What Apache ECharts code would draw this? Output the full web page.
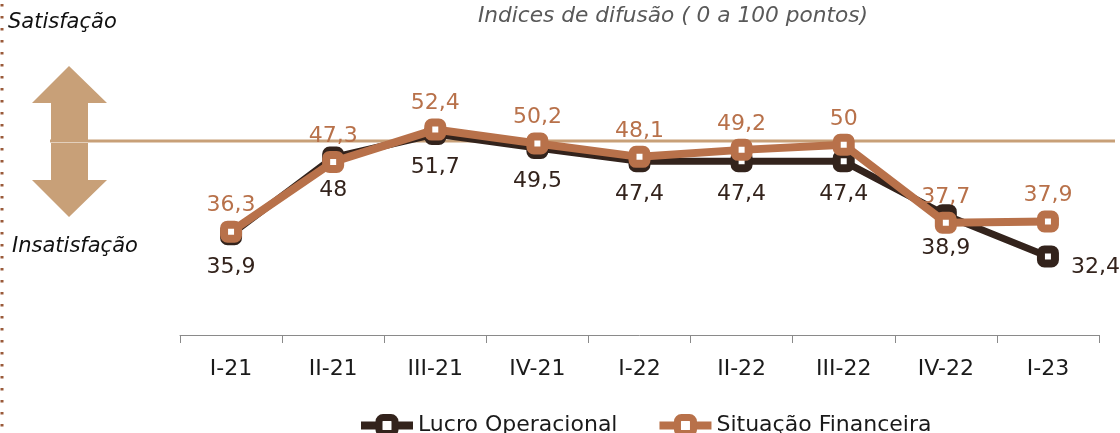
<!DOCTYPE html>
<html>
<head>
<meta charset="utf-8">
<script src="https://cdn.jsdelivr.net/npm/echarts@6/dist/echarts.min.js"></script>
<style>
html,body{margin:0;padding:0;background:#fff;}
#chart{width:1120px;height:433px;}
</style>
</head>
<body>
<div id="chart"></div>
<script>
const categories = ['I-21','II-21','III-21','IV-21','I-22','II-22','III-22','IV-22','I-23'];
const lucroOperacional = [35.9, 48, 51.7, 49.5, 47.4, 47.4, 47.4, 38.9, 32.4];
const situacaoFinanceira = [36.3, 47.3, 52.4, 50.2, 48.1, 49.2, 50, 37.7, 37.9];
const seriesNames = ['Lucro Operacional', 'Situação Financeira'];
const titleText = 'Indices de difusão ( 0 a 100 pontos)';

const FONT = 'DejaVu Sans';
const DARK = '#33231c';
const ORANGE = '#b8714a';
const TAN = '#c8a078';

const fmt = v => String(v).replace('.', ',');

const chart = echarts.init(document.getElementById('chart'));

const lucroData = lucroOperacional.map((v, i) => {
  if (i === lucroOperacional.length - 1) {
    return { value: v, label: { position: 'right', distance: 12, offset: [0, 11] } };
  }
  return v;
});

chart.setOption({
  animation: false,
  backgroundColor: '#fff',
  title: {
    text: titleText,
    left: 668, top: 0, textAlign: 'center',
    textStyle: { fontFamily: FONT, fontStyle: 'italic', fontWeight: 'normal', fontSize: 21.7, color: '#595959' }
  },
  legend: {
    data: seriesNames,
    top: 409, left: 352,
    itemWidth: 52, itemHeight: 20, itemGap: 38,
    lineStyle: { width: 8 },
    itemStyle: { borderWidth: 7 },
    textStyle: { fontFamily: FONT, fontSize: 22, color: '#1a1a1a' }
  },
  grid: { left: 180, right: 21, top: 18, bottom: 98 },
  xAxis: {
    type: 'category',
    data: categories,
    boundaryGap: true,
    axisLine: { lineStyle: { color: '#8a8a8a', width: 1 } },
    axisTick: { show: true, length: 8, lineStyle: { color: '#8a8a8a' } },
    axisLabel: { margin: 23, fontFamily: FONT, fontSize: 22, color: '#1a1a1a' }
  },
  yAxis: {
    type: 'value', min: 20, max: 70, show: false, splitLine: { show: false }
  },
  graphic: [
    { type: 'line', z: 0, shape: { x1: 50, y1: 141, x2: 1115, y2: 141 }, style: { stroke: TAN, lineWidth: 3 } },
    { type: 'polygon', z: 1, shape: { points: [[69,66],[107,103],[88,103],[88,140],[51,140],[51,103],[32,103]] }, style: { fill: TAN } },
    { type: 'polygon', z: 1, shape: { points: [[51,143],[88,143],[88,180],[107,180],[69,217],[32,180],[51,180]] }, style: { fill: TAN } },
    { type: 'line', z: 1, shape: { x1: 2, y1: 4, x2: 2, y2: 433 }, style: { stroke: '#9a5a3a', lineWidth: 3, lineDash: [2.5, 9.5] } },
    { type: 'text', z: 1, left: 8, top: 12, style: { text: 'Satisfação', font: 'italic 21px "DejaVu Sans"', fill: '#111' } },
    { type: 'text', z: 1, left: 12, top: 236, style: { text: 'Insatisfação', font: 'italic 21px "DejaVu Sans"', fill: '#111' } }
  ],
  series: [
    {
      name: seriesNames[0],
      type: 'line',
      data: lucroData,
      z: 2,
      symbol: 'roundRect',
      symbolSize: 14,
      lineStyle: { color: DARK, width: 7 },
      itemStyle: { color: '#fff', borderColor: DARK, borderWidth: 8 },
      label: {
        show: true, position: 'bottom', distance: 11,
        fontFamily: FONT, fontSize: 22, color: DARK,
        formatter: p => fmt(p.value)
      }
    },
    {
      name: seriesNames[1],
      type: 'line',
      data: situacaoFinanceira,
      z: 3,
      symbol: 'roundRect',
      symbolSize: 14,
      lineStyle: { color: ORANGE, width: 8 },
      itemStyle: { color: '#fff', borderColor: ORANGE, borderWidth: 8 },
      label: {
        show: true, position: 'top', distance: 4,
        fontFamily: FONT, fontSize: 22, color: ORANGE,
        formatter: p => fmt(p.value)
      }
    }
  ]
});
</script>
</body>
</html>
